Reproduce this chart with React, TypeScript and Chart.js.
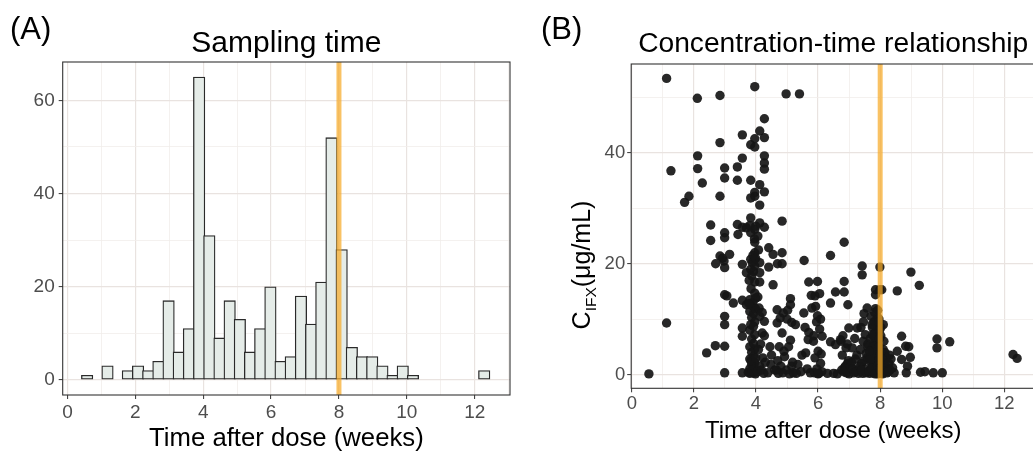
import React, { useEffect, useRef } from "react";
import { Chart, registerables } from "chart.js";

Chart.register(...registerables);

const FONT = '"Liberation Sans", Arial, Helvetica, sans-serif';

// ---------- Panel A: histogram of sampling times ----------
const histBinWidthWeeks = 0.3;
const histBinCenters = [
  0.58, 1.18, 1.78, 2.08, 2.38, 2.68, 2.98, 3.28, 3.58, 3.88, 4.18, 4.48, 4.78, 5.08, 5.38, 5.68,
  5.98, 6.28, 6.58, 6.88, 7.18, 7.48, 7.78, 8.08, 8.38, 8.68, 8.98, 9.28, 9.58, 9.88, 10.18, 12.28,
];
const histCounts = [
  1, 3, 2, 3, 2, 4, 17, 6, 11, 65, 31, 9, 17, 13, 6, 11,
  20, 4, 5, 18, 12, 21, 52, 28, 7, 5, 5, 3, 1, 3, 1, 2,
];

const doseIntervalWeeks = 8;
const xMajorTicks = [0, 2, 4, 6, 8, 10, 12];
const xGridTicks = [0, 1, 2, 3, 4, 5, 6, 7, 8, 9, 10, 11, 12, 13];
const histYMajorTicks = [0, 20, 40, 60];
const histYGridTicks = [0, 10, 20, 30, 40, 50, 60];
const concYMajorTicks = [0, 20, 40];
const concYGridTicks = [0, 10, 20, 30, 40, 50];

// ---------- Panel B: concentration vs time (weeks, ug/mL) ----------
const earlyPoints: [number, number][] = [
  [0.55, 0.1],
  [1.12, 53.5], [1.12, 9.3], [1.26, 36.8],
  [1.70, 31.1], [1.84, 32.2],
  [2.11, 49.9], [2.12, 39.5], [2.12, 37.2],
  [2.27, 34.6], [2.41, 3.9],
  [2.54, 27.0], [2.54, 24.2], [2.69, 5.2], [2.70, 20.0],
  [2.84, 50.4], [2.84, 41.9], [2.84, 32.2], [2.84, 21.4], [2.99, 37.3], [2.99, 35.5], [2.99, 25.6],
  [2.99, 24.7], [2.97, 20.5], [2.99, 19.3], [2.99, 14.4], [2.99, 10.5], [2.99, 9.0], [2.99, 5.1],
  [2.99, 0.3], [3.06, 14.2], [2.92, 21.0],
  [3.15, 21.7], [3.27, 12.9], [3.40, 37.5], [3.40, 35.1], [3.40, 27.1], [3.42, 25.3],
  [3.56, 43.3], [3.56, 39.1], [3.56, 26.6], [3.69, 26.5], [3.56, 19.9], [3.69, 18.4], [3.56, 13.4],
  [3.69, 12.6], [3.56, 8.4], [3.56, 6.9], [3.56, 0.3],
];

const week4Points: [number, number][] = [
  [3.96, 52.0], [3.96, 42.6], [3.83, 41.5], [3.96, 41.1], [3.83, 35.1], [3.96, 32.9], [3.96, 32.2],
  [3.83, 31.9], [3.83, 28.3], [3.96, 26.2], [3.83, 25.6], [3.80, 26.9], [3.96, 23.9], [3.96, 22.0],
  [3.90, 21.5], [3.96, 20.8], [3.83, 20.8], [3.88, 20.2], [3.96, 19.6], [3.83, 19.0], [3.92, 18.6],
  [3.86, 17.8], [3.96, 16.7], [3.84, 15.5], [3.96, 14.7], [3.80, 13.5], [3.90, 13.0], [3.84, 12.5],
  [3.96, 12.0], [3.80, 11.4], [3.92, 11.0], [3.86, 10.3], [3.96, 9.5], [3.83, 9.0], [3.92, 8.7],
  [3.80, 8.0], [3.96, 7.2], [3.86, 6.4], [3.92, 5.6], [3.80, 5.0], [3.96, 4.6], [3.86, 4.0],
  [3.92, 3.3], [3.80, 2.8], [3.96, 2.2], [3.86, 1.8], [3.92, 1.3], [3.80, 1.0], [3.96, 0.8],
  [3.86, 0.5], [3.92, 0.3], [3.80, 0.2], [3.98, 0.1], [3.75, 0.4], [3.88, 0.6], [3.94, 1.5],
  [3.84, 2.5], [3.99, 3.0], [3.99, 11.8], [3.77, 12.8], [3.99, 13.8], [3.99, 21.0], [3.95, 24.5],
  [3.99, 26.8], [3.78, 17.0],
  [4.27, 46.2], [4.12, 44.0], [4.27, 42.8], [4.27, 39.5], [4.27, 38.2], [4.27, 37.1], [4.12, 34.3],
  [4.27, 33.0], [4.12, 30.6], [4.12, 27.4], [4.27, 26.6], [4.12, 20.2], [4.12, 18.4], [4.12, 16.7],
  [4.06, 14.0], [4.10, 12.0], [4.12, 10.5], [4.27, 9.6], [4.20, 7.5], [4.27, 7.0], [4.15, 5.5],
  [4.08, 4.5], [4.22, 3.0], [4.12, 1.5], [4.05, 0.5], [4.25, 0.2], [4.18, 0.8], [4.08, 22.5],
  [4.06, 25.0], [4.20, 11.2], [4.30, 2.2],
];

const midPoints: [number, number][] = [
  [4.41, 22.9], [4.41, 19.4], [4.55, 21.7], [4.55, 16.2], [4.45, 5.0], [4.50, 3.5], [4.38, 0.3],
  [4.60, 0.8], [4.48, 1.8],
  [4.84, 27.7], [4.84, 22.0], [4.84, 20.0], [4.69, 20.0], [4.68, 11.7], [4.88, 11.1], [4.68, 9.3],
  [4.84, 7.5], [4.75, 5.0], [4.90, 4.2], [4.70, 2.5], [4.80, 1.5], [4.66, 0.8], [4.86, 0.3],
  [4.72, 0.2], [4.78, 10.2], [4.92, 3.2],
  [4.97, 50.7], [5.11, 13.7], [5.11, 12.6], [5.00, 10.0], [5.11, 6.2], [5.05, 5.0], [5.15, 1.5],
  [4.98, 0.8], [5.20, 0.3], [5.08, 0.1], [5.18, 2.2], [5.02, 11.6], [5.15, 9.4],
  [5.40, 50.7], [5.27, 9.0], [5.35, 1.8], [5.45, 0.5], [5.30, 0.2], [5.48, 3.5],
  [5.55, 20.6], [5.70, 16.7], [5.78, 14.3], [5.54, 11.1], [5.80, 12.0], [5.70, 7.6], [5.68, 6.3],
  [5.60, 3.9], [5.65, 1.0], [5.75, 0.3], [5.58, 8.5],
  [5.98, 16.8], [6.05, 14.6], [5.90, 14.2], [5.98, 10.6], [6.08, 10.0], [5.95, 9.5], [6.13, 6.9],
  [5.85, 6.0], [6.00, 4.2], [6.10, 3.7], [5.88, 0.3], [6.02, 0.2], [6.12, 0.5], [5.92, 12.3],
  [6.05, 8.2], [5.86, 7.0], [5.96, 1.0], [6.08, 2.0], [5.90, 3.0], [6.00, 0.1],
  [6.40, 21.5], [6.40, 12.9], [6.40, 5.9], [6.30, 0.2],
  [6.56, 14.9], [6.56, 5.4], [6.72, 6.3], [6.50, 0.2], [6.62, 0.1],
  [6.84, 23.9], [6.84, 16.8], [6.84, 14.9], [6.96, 12.6], [6.99, 8.4], [6.80, 7.0], [6.90, 4.8],
  [6.78, 3.5], [6.95, 2.0], [6.85, 1.2], [6.76, 0.8], [6.92, 0.3], [7.00, 0.1], [6.88, 1.5],
  [6.98, 2.5], [6.82, 0.5], [6.94, 5.5], [6.74, 6.0],
  [7.26, 8.4], [7.10, 4.8], [7.20, 2.8], [7.05, 1.5], [7.15, 0.3], [7.28, 0.8], [7.08, 2.2],
  [7.30, 0.2], [7.18, 6.5], [7.25, 3.5], [7.12, 1.0], [7.22, 0.5],
  [7.42, 19.6], [7.42, 18.0], [7.58, 12.0], [7.48, 11.0], [7.38, 8.5], [7.52, 7.2], [7.45, 6.0],
  [7.60, 5.0], [7.36, 4.5], [7.55, 3.8], [7.40, 2.0], [7.50, 1.0], [7.62, 0.5], [7.44, 0.2],
  [7.58, 3.0], [7.35, 1.5], [7.54, 0.3], [7.46, 9.5], [7.60, 5.5], [7.48, 2.5], [7.40, 0.8],
];

const week8Points: [number, number][] = [
  [7.85, 15.3], [7.85, 14.4], [7.85, 11.9], [7.70, 10.5], [7.90, 10.0], [7.80, 9.5], [7.92, 9.0],
  [7.75, 8.5], [7.88, 8.0], [7.82, 7.5], [7.92, 7.0], [7.68, 6.5], [7.86, 6.0], [7.90, 5.5],
  [7.78, 5.0], [7.92, 4.5], [7.84, 4.0], [7.72, 3.5], [7.90, 3.0], [7.80, 2.5], [7.92, 2.0],
  [7.74, 1.5], [7.88, 1.0], [7.82, 0.5], [7.66, 0.2], [7.92, 0.1], [7.78, 0.3], [7.86, 0.8],
  [7.90, 1.3], [7.70, 2.2], [7.92, 2.8], [7.84, 3.3], [7.92, 3.8], [7.76, 4.3], [7.90, 4.8],
  [7.86, 5.3], [7.92, 6.2], [7.80, 6.8], [7.90, 7.8], [7.92, 8.5], [7.88, 9.8], [7.92, 10.3],
  [7.64, 0.6], [7.72, 1.1], [7.68, 2.8], [7.76, 7.2], [7.82, 11.2], [7.92, 11.6], [7.65, 4.2],
  [7.74, 9.0], [7.92, 1.6], [7.84, 0.1],
  [7.99, 19.4], [7.99, 15.3], [8.05, 15.3], [7.96, 10.0], [8.10, 9.0], [7.98, 8.0], [8.02, 7.0],
  [8.12, 6.0], [7.96, 5.0], [8.15, 4.0], [8.00, 3.5], [8.20, 3.0], [7.97, 2.5], [8.08, 2.0],
  [8.18, 1.5], [7.99, 1.0], [8.12, 0.5], [8.04, 0.2], [8.22, 0.3], [8.00, 0.8], [8.15, 1.2],
  [8.06, 2.2], [8.18, 3.2], [8.10, 4.5], [7.98, 6.5], [8.02, 8.5], [7.96, 9.5], [8.08, 0.1],
];

const latePoints: [number, number][] = [
  [8.30, 3.5], [8.35, 2.8], [8.28, 2.0], [8.40, 1.2], [8.32, 0.8], [8.45, 0.3], [8.26, 0.5],
  [8.55, 15.1], [8.69, 6.9], [8.82, 5.1], [8.55, 4.2], [8.69, 2.7],
  [8.99, 18.5], [8.97, 3.1], [8.84, 0.3], [8.92, 5.0], [8.88, 1.5],
  [9.26, 16.1], [9.30, 0.4], [9.44, 0.5],
  [9.71, 0.3],
  [9.83, 6.4], [9.83, 4.8], [10.00, 0.3],
  [10.24, 5.9],
  [12.28, 3.6], [12.41, 2.9],
];

// ---------- helpers ----------
type TextItem = { text: string; x: number; y: number; size: number; color?: string; align?: CanvasTextAlign };

function makeDecor(texts: TextItem[], yLabel?: { x: number; y: number; size: number; sub: number }) {
  return {
    id: "decor",
    afterDatasetsDraw(chart: any) {
      const { ctx, chartArea: a } = chart;
      ctx.save();
      ctx.strokeStyle = "#333333";
      ctx.lineWidth = 1.1;
      ctx.strokeRect(a.left, a.top, a.right - a.left, a.bottom - a.top);
      ctx.restore();
    },
    afterDraw(chart: any) {
      const ctx = chart.ctx;
      texts.forEach((t) => {
        ctx.save();
        ctx.font = `${t.size}px ${FONT}`;
        ctx.fillStyle = t.color || "#000000";
        ctx.textAlign = t.align || "center";
        ctx.textBaseline = "alphabetic";
        ctx.fillText(t.text, t.x, t.y);
        ctx.restore();
      });
      if (yLabel) {
        ctx.save();
        ctx.translate(yLabel.x, yLabel.y);
        ctx.rotate(-Math.PI / 2);
        ctx.fillStyle = "#000000";
        ctx.textBaseline = "alphabetic";
        ctx.textAlign = "left";
        const big = `${yLabel.size}px ${FONT}`;
        const small = `${yLabel.sub}px ${FONT}`;
        ctx.font = big;
        const wC = ctx.measureText("C").width;
        const wRest = ctx.measureText("(μg/mL)").width;
        ctx.font = small;
        const wSub = ctx.measureText("IFX").width;
        const total = wC + wSub + wRest;
        let x = -total / 2;
        ctx.font = big;
        ctx.fillText("C", x, 0);
        x += wC;
        ctx.font = small;
        ctx.fillText("IFX", x, yLabel.size * 0.22);
        x += wSub;
        ctx.font = big;
        ctx.fillText("(μg/mL)", x, 0);
        ctx.restore();
      }
    },
  };
}

function axisOpts(opts: {
  min: number;
  max: number;
  gridTicks: number[];
  majorTicks: number[];
  fontSize: number;
  padding: number;
  fit: (s: any) => void;
}) {
  const major = new Set(opts.majorTicks);
  return {
    type: "linear" as const,
    min: opts.min,
    max: opts.max,
    offset: false,
    afterBuildTicks: (scale: any) => {
      scale.ticks = opts.gridTicks.map((v) => ({ value: v }));
    },
    afterFit: opts.fit,
    border: { display: false },
    grid: {
      offset: false,
      drawOnChartArea: true,
      drawTicks: true,
      tickLength: 4,
      color: (c: any) => (c.tick && major.has(c.tick.value) ? "#E9E3E0" : "#F1EDEB"),
      lineWidth: (c: any) => (c.tick && major.has(c.tick.value) ? 1.2 : 0.8),
      tickColor: (c: any) => (c.tick && major.has(c.tick.value) ? "#333333" : "rgba(0,0,0,0)"),
      tickWidth: 1,
    },
    ticks: {
      autoSkip: false,
      maxRotation: 0,
      padding: opts.padding,
      color: "#4D4D4D",
      font: { family: FONT, size: opts.fontSize },
      callback: (v: any) => (major.has(v) ? String(v) : ""),
    },
  };
}

const ORANGE = "rgba(247, 170, 40, 0.72)";

// Panel A plot box (px) and x range, used to size the histogram bars to exactly one bin
const A_LEFT = 62.7;
const A_RIGHT = 510;
const A_XMIN = -0.14;
const A_XMAX = 13.04;
const BAR_BORDER = 1.3;

function HistogramPanel() {
  const ref = useRef<HTMLCanvasElement | null>(null);
  useEffect(() => {
    if (!ref.current) return;
    const yMin = -3.25;
    const yMax = 68.25;
    const binPx = (histBinWidthWeeks * (A_RIGHT - A_LEFT)) / (A_XMAX - A_XMIN);
    const chart = new Chart(ref.current, {
      type: "bar",
      data: {
        datasets: [
          {
            type: "line",
            data: [
              { x: doseIntervalWeeks, y: yMin },
              { x: doseIntervalWeeks, y: yMax },
            ],
            borderColor: ORANGE,
            borderWidth: 5,
            pointRadius: 0,
            order: 0,
          } as any,
          {
            type: "bar",
            data: histBinCenters.map((c, i) => ({ x: c, y: histCounts[i] })),
            backgroundColor: "#E5ECE8",
            borderColor: "#2A2A2A",
            borderWidth: BAR_BORDER,
            borderSkipped: false,
            // stroke centred on the bin edge (as in ggplot): neighbours share one outline
            barThickness: binPx + BAR_BORDER,
            grouped: false,
            order: 1,
          } as any,
        ],
      },
      options: {
        responsive: false,
        animation: false,
        events: [],
        layout: { padding: { left: 0, top: 62, right: 540 - A_RIGHT, bottom: 0 } },
        plugins: { legend: { display: false }, tooltip: { enabled: false } },
        scales: {
          x: axisOpts({
            min: A_XMIN,
            max: A_XMAX,
            gridTicks: xGridTicks,
            majorTicks: xMajorTicks,
            fontSize: 19,
            padding: 2,
            fit: (s: any) => {
              s.height = 58;
            },
          }) as any,
          y: axisOpts({
            min: yMin,
            max: yMax,
            gridTicks: histYGridTicks,
            majorTicks: histYMajorTicks,
            fontSize: 19,
            padding: 4,
            fit: (s: any) => {
              s.width = A_LEFT;
            },
          }) as any,
        },
      },
      plugins: [
        makeDecor([
          { text: "(A)", x: 10, y: 39, size: 31, align: "left" },
          { text: "Sampling time", x: 286.4, y: 52, size: 30 },
          { text: "Time after dose (weeks)", x: 286.4, y: 446, size: 25.7 },
        ]),
      ],
    } as any);
    return () => chart.destroy();
  }, []);
  return (
    <canvas
      ref={ref}
      width={540}
      height={453}
      style={{ position: "absolute", left: 0, top: 0, width: 540, height: 453 }}
    />
  );
}

function ScatterPanel() {
  const ref = useRef<HTMLCanvasElement | null>(null);
  useEffect(() => {
    if (!ref.current) return;
    const yMin = -2.5;
    const yMax = 56.1;
    const allPoints = [...earlyPoints, ...week4Points, ...midPoints, ...week8Points, ...latePoints];
    const chart = new Chart(ref.current, {
      type: "scatter",
      data: {
        datasets: [
          {
            type: "line",
            data: [
              { x: doseIntervalWeeks, y: yMin },
              { x: doseIntervalWeeks, y: yMax },
            ],
            borderColor: ORANGE,
            borderWidth: 5,
            pointRadius: 0,
            showLine: true,
            order: 0,
          } as any,
          {
            data: allPoints.map(([x, y]) => ({ x, y })),
            backgroundColor: "rgba(22,22,22,0.92)",
            pointRadius: 4.7,
            pointBorderWidth: 0,
            borderWidth: 0,
            order: 1,
          } as any,
        ],
      },
      options: {
        responsive: false,
        animation: false,
        events: [],
        layout: { padding: { left: 0, top: 64, right: 4.9, bottom: 0 } },
        plugins: { legend: { display: false }, tooltip: { enabled: false } },
        scales: {
          x: axisOpts({
            min: -0.02,
            max: 12.99,
            gridTicks: xGridTicks.filter((v) => v <= 12),
            majorTicks: xMajorTicks,
            fontSize: 18.5,
            padding: 1,
            fit: (s: any) => {
              s.height = 64.7;
            },
          }) as any,
          y: axisOpts({
            min: yMin,
            max: yMax,
            gridTicks: concYGridTicks,
            majorTicks: concYMajorTicks,
            fontSize: 18.5,
            padding: 2,
            fit: (s: any) => {
              s.width = 91.2;
            },
          }) as any,
        },
      },
      plugins: [
        makeDecor(
          [
            { text: "(B)", x: 1, y: 39, size: 31, align: "left" },
            { text: "Concentration-time relationship", x: 293.2, y: 52, size: 28.2 },
            { text: "Time after dose (weeks)", x: 293.2, y: 438, size: 24 },
          ],
          { x: 50, y: 265, size: 25, sub: 15.5 }
        ),
      ],
    } as any);
    return () => chart.destroy();
  }, []);
  return (
    <canvas
      ref={ref}
      width={500}
      height={453}
      style={{ position: "absolute", left: 540, top: 0, width: 500, height: 453 }}
    />
  );
}

export default function App() {
  return (
    <div
      style={{
        position: "fixed",
        left: 0,
        top: 0,
        width: 1033,
        height: 453,
        overflow: "hidden",
        background: "#ffffff",
      }}
    >
      <HistogramPanel />
      <ScatterPanel />
    </div>
  );
}
